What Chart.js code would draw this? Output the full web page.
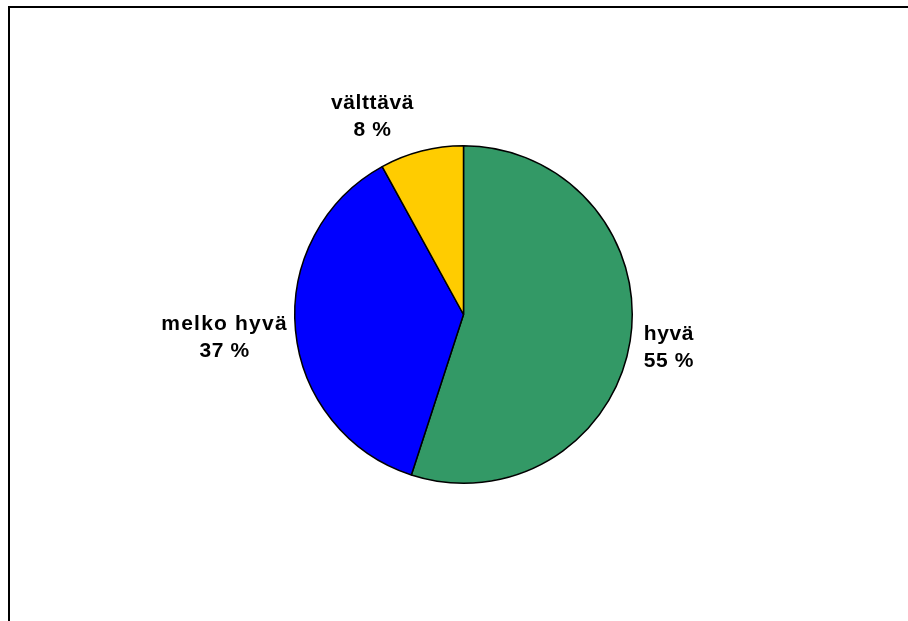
<!DOCTYPE html>
<html>
<head>
<meta charset="utf-8">
<script src="https://cdn.jsdelivr.net/npm/chart.js@4"></script>
<style>
  html, body { margin: 0; padding: 0; background: #fff; }
  #wrap { width: 908px; height: 621px; }
</style>
</head>
<body>
<div id="wrap"><canvas id="canvas" width="908" height="621"></canvas></div>
<script>
const labels = ['hyvä', 'melko hyvä', 'välttävä'];
const values = [55, 37, 8];
const colors = ['#339966', '#0000ff', '#ffcc00'];

// where each label sits: distance from centre, x nudge, letter spacing
const labelPlace = [
  { r: 208, dx: 0, ls: '0.6px' },
  { r: 240, dx: 0, ls: '1.2px' },
  { r: 205, dx: -40, ls: '0.6px' }
];

// outer frame, runs off the right and bottom edges
const frame = {
  id: 'frame',
  beforeDraw(chart) {
    const c = chart.ctx;
    c.save();
    c.fillStyle = '#fff';
    c.fillRect(0, 0, chart.width, chart.height);
    c.strokeStyle = '#000';
    c.lineWidth = 2;
    c.strokeRect(9, 7, 1000, 1000);
    c.restore();
  }
};

const pieLabels = {
  id: 'pieLabels',
  afterDatasetsDraw(chart) {
    const c = chart.ctx;
    const meta = chart.getDatasetMeta(0);
    const total = values.reduce((a, b) => a + b, 0);
    c.save();
    c.font = 'bold 21px "Liberation Sans", Arial, sans-serif';
    c.fillStyle = '#000';
    c.textAlign = 'center';
    c.textBaseline = 'middle';
    meta.data.forEach((arc, i) => {
      const p = labelPlace[i];
      const mid = (arc.startAngle + arc.endAngle) / 2;
      const x = arc.x + Math.cos(mid) * p.r + p.dx;
      const y = arc.y + Math.sin(mid) * p.r;
      const pct = Math.round(values[i] / total * 100) + ' %';
      c.letterSpacing = p.ls;
      c.fillText(labels[i], x, y - 13);
      c.letterSpacing = '0.6px';
      c.fillText(pct, x, y + 14);
    });
    c.restore();
  }
};

new Chart(document.getElementById('canvas').getContext('2d'), {
  type: 'pie',
  data: {
    labels: labels,
    datasets: [{
      data: values,
      backgroundColor: colors,
      borderColor: '#000',
      borderWidth: 1.5
    }]
  },
  options: {
    responsive: false,
    animation: false,
    layout: { padding: { left: 294, right: 275, top: 145, bottom: 137 } },
    plugins: {
      legend: { display: false },
      tooltip: { enabled: false }
    }
  },
  plugins: [frame, pieLabels]
});
</script>
</body>
</html>
